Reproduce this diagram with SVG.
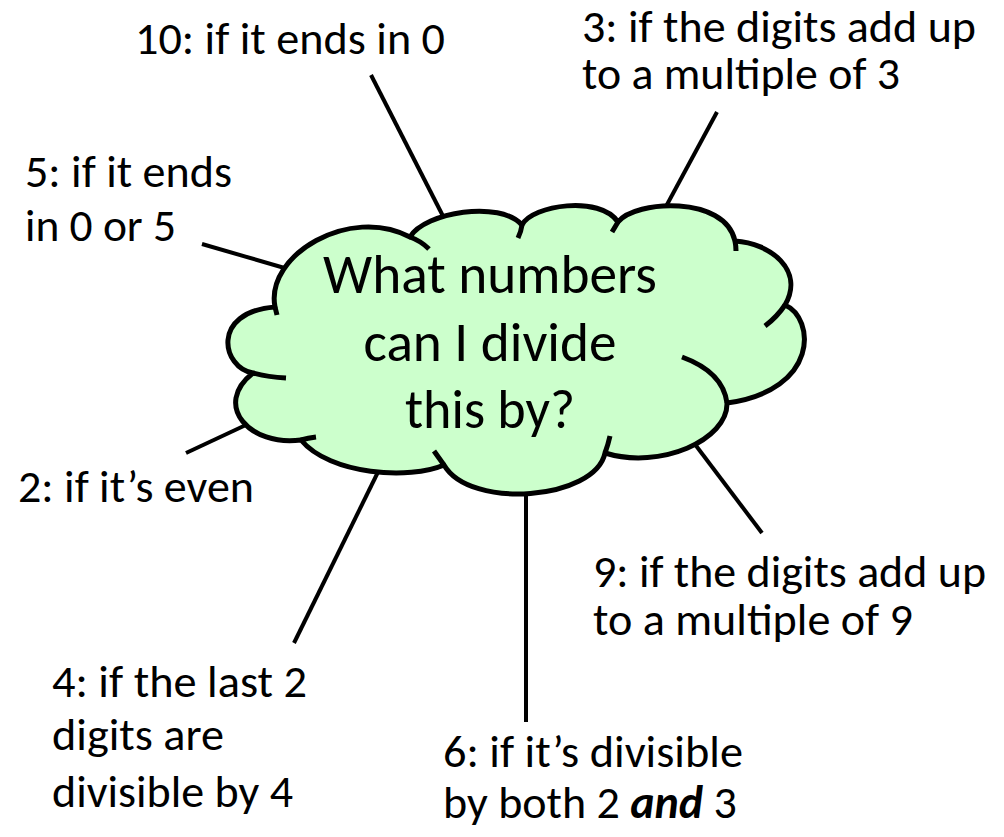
<svg xmlns="http://www.w3.org/2000/svg" width="1004" height="837" viewBox="0 0 1004 837">
<style>
.lbl{font-family:Carlito,'Liberation Sans',Arial,sans-serif;font-size:46px;fill:#000}
.ctr{font-family:Carlito,'Liberation Sans',Arial,sans-serif;font-size:55px;fill:#000;text-anchor:middle}
.conn line{stroke:#000;stroke-width:4;fill:none}
.cloud{fill:#CCFFCC;stroke:#000;stroke-width:5;stroke-linejoin:round}
.tick{fill:none;stroke:#000;stroke-width:5}
.bi{font-weight:bold;font-style:italic}
</style>
<rect width="1004" height="837" fill="#fff"/>
<g id="connectors" class="conn">
<line x1="371" y1="75" x2="446" y2="222"/>
<line x1="717" y1="112" x2="663" y2="212"/>
<line x1="202" y1="244" x2="288" y2="269"/>
<line x1="186" y1="453" x2="248" y2="424"/>
<line x1="294" y1="643" x2="379" y2="470"/>
<line x1="526" y1="722" x2="526" y2="488"/>
<line x1="762" y1="533" x2="694" y2="443"/>
</g>
<g id="cloud">
<path class="cloud" d="M275,307 C265,255 350,205 410,237 C425,212 500,200 522,225 C532,205 600,195 618,222 C635,200 725,195 735,241 C770,243 805,270 785,305 C815,318 820,390 727,403 C728,440 660,470 605,453 C595,500 470,510 444,465 C410,480 330,475 301,440 C250,447 212,405 253,373 C222,368 210,312 275,307 Z"/>
<path class="tick" d="M410,237 Q421,241 429,249 M522,225 Q521,232 518,238 M618,222 Q615,227 612,232 M735,241 Q736,246 736,251 M785,305 Q777,317 765,326 M727,403 Q723,372 682,357 M605,453 Q608,445 610,436 M444,465 Q439,458 434,451 M301,440 Q308,438 316,437 M253,373 Q268,377 286,378 M275,307 Q276,311 277,315"/>
<text class="ctr"><tspan x="490" y="293" textLength="334" lengthAdjust="spacingAndGlyphs">What numbers</tspan><tspan x="490" y="361" textLength="253" lengthAdjust="spacingAndGlyphs">can I divide</tspan><tspan x="490" y="428" textLength="170" lengthAdjust="spacingAndGlyphs">this by?</tspan></text>
</g>
<g id="n10"><text class="lbl" x="135" y="54" textLength="310" lengthAdjust="spacingAndGlyphs">10: if it ends in 0</text></g>
<g id="n3"><text class="lbl"><tspan x="582" y="42" textLength="394" lengthAdjust="spacingAndGlyphs">3: if the digits add up</tspan><tspan x="582" y="89" textLength="318" lengthAdjust="spacingAndGlyphs">to a multiple of 3</tspan></text></g>
<g id="n5"><text class="lbl"><tspan x="25" y="187" textLength="207" lengthAdjust="spacingAndGlyphs">5: if it ends</tspan><tspan x="25" y="241" textLength="151" lengthAdjust="spacingAndGlyphs">in 0 or 5</tspan></text></g>
<g id="n2"><text class="lbl" x="18" y="502" textLength="236" lengthAdjust="spacingAndGlyphs">2: if it’s even</text></g>
<g id="n9"><text class="lbl"><tspan x="593" y="587" textLength="393" lengthAdjust="spacingAndGlyphs">9: if the digits add up</tspan><tspan x="593" y="635" textLength="320" lengthAdjust="spacingAndGlyphs">to a multiple of 9</tspan></text></g>
<g id="n4"><text class="lbl"><tspan x="52" y="697" textLength="255" lengthAdjust="spacingAndGlyphs">4: if the last 2</tspan><tspan x="52" y="750" textLength="172" lengthAdjust="spacingAndGlyphs">digits are</tspan><tspan x="52" y="807" textLength="241" lengthAdjust="spacingAndGlyphs">divisible by 4</tspan></text></g>
<g id="n6"><text class="lbl"><tspan x="443" y="767" textLength="300" lengthAdjust="spacingAndGlyphs">6: if it’s divisible</tspan><tspan x="443" y="818">by both 2 <tspan class="bi">and</tspan> 3</tspan></text></g>
</svg>
